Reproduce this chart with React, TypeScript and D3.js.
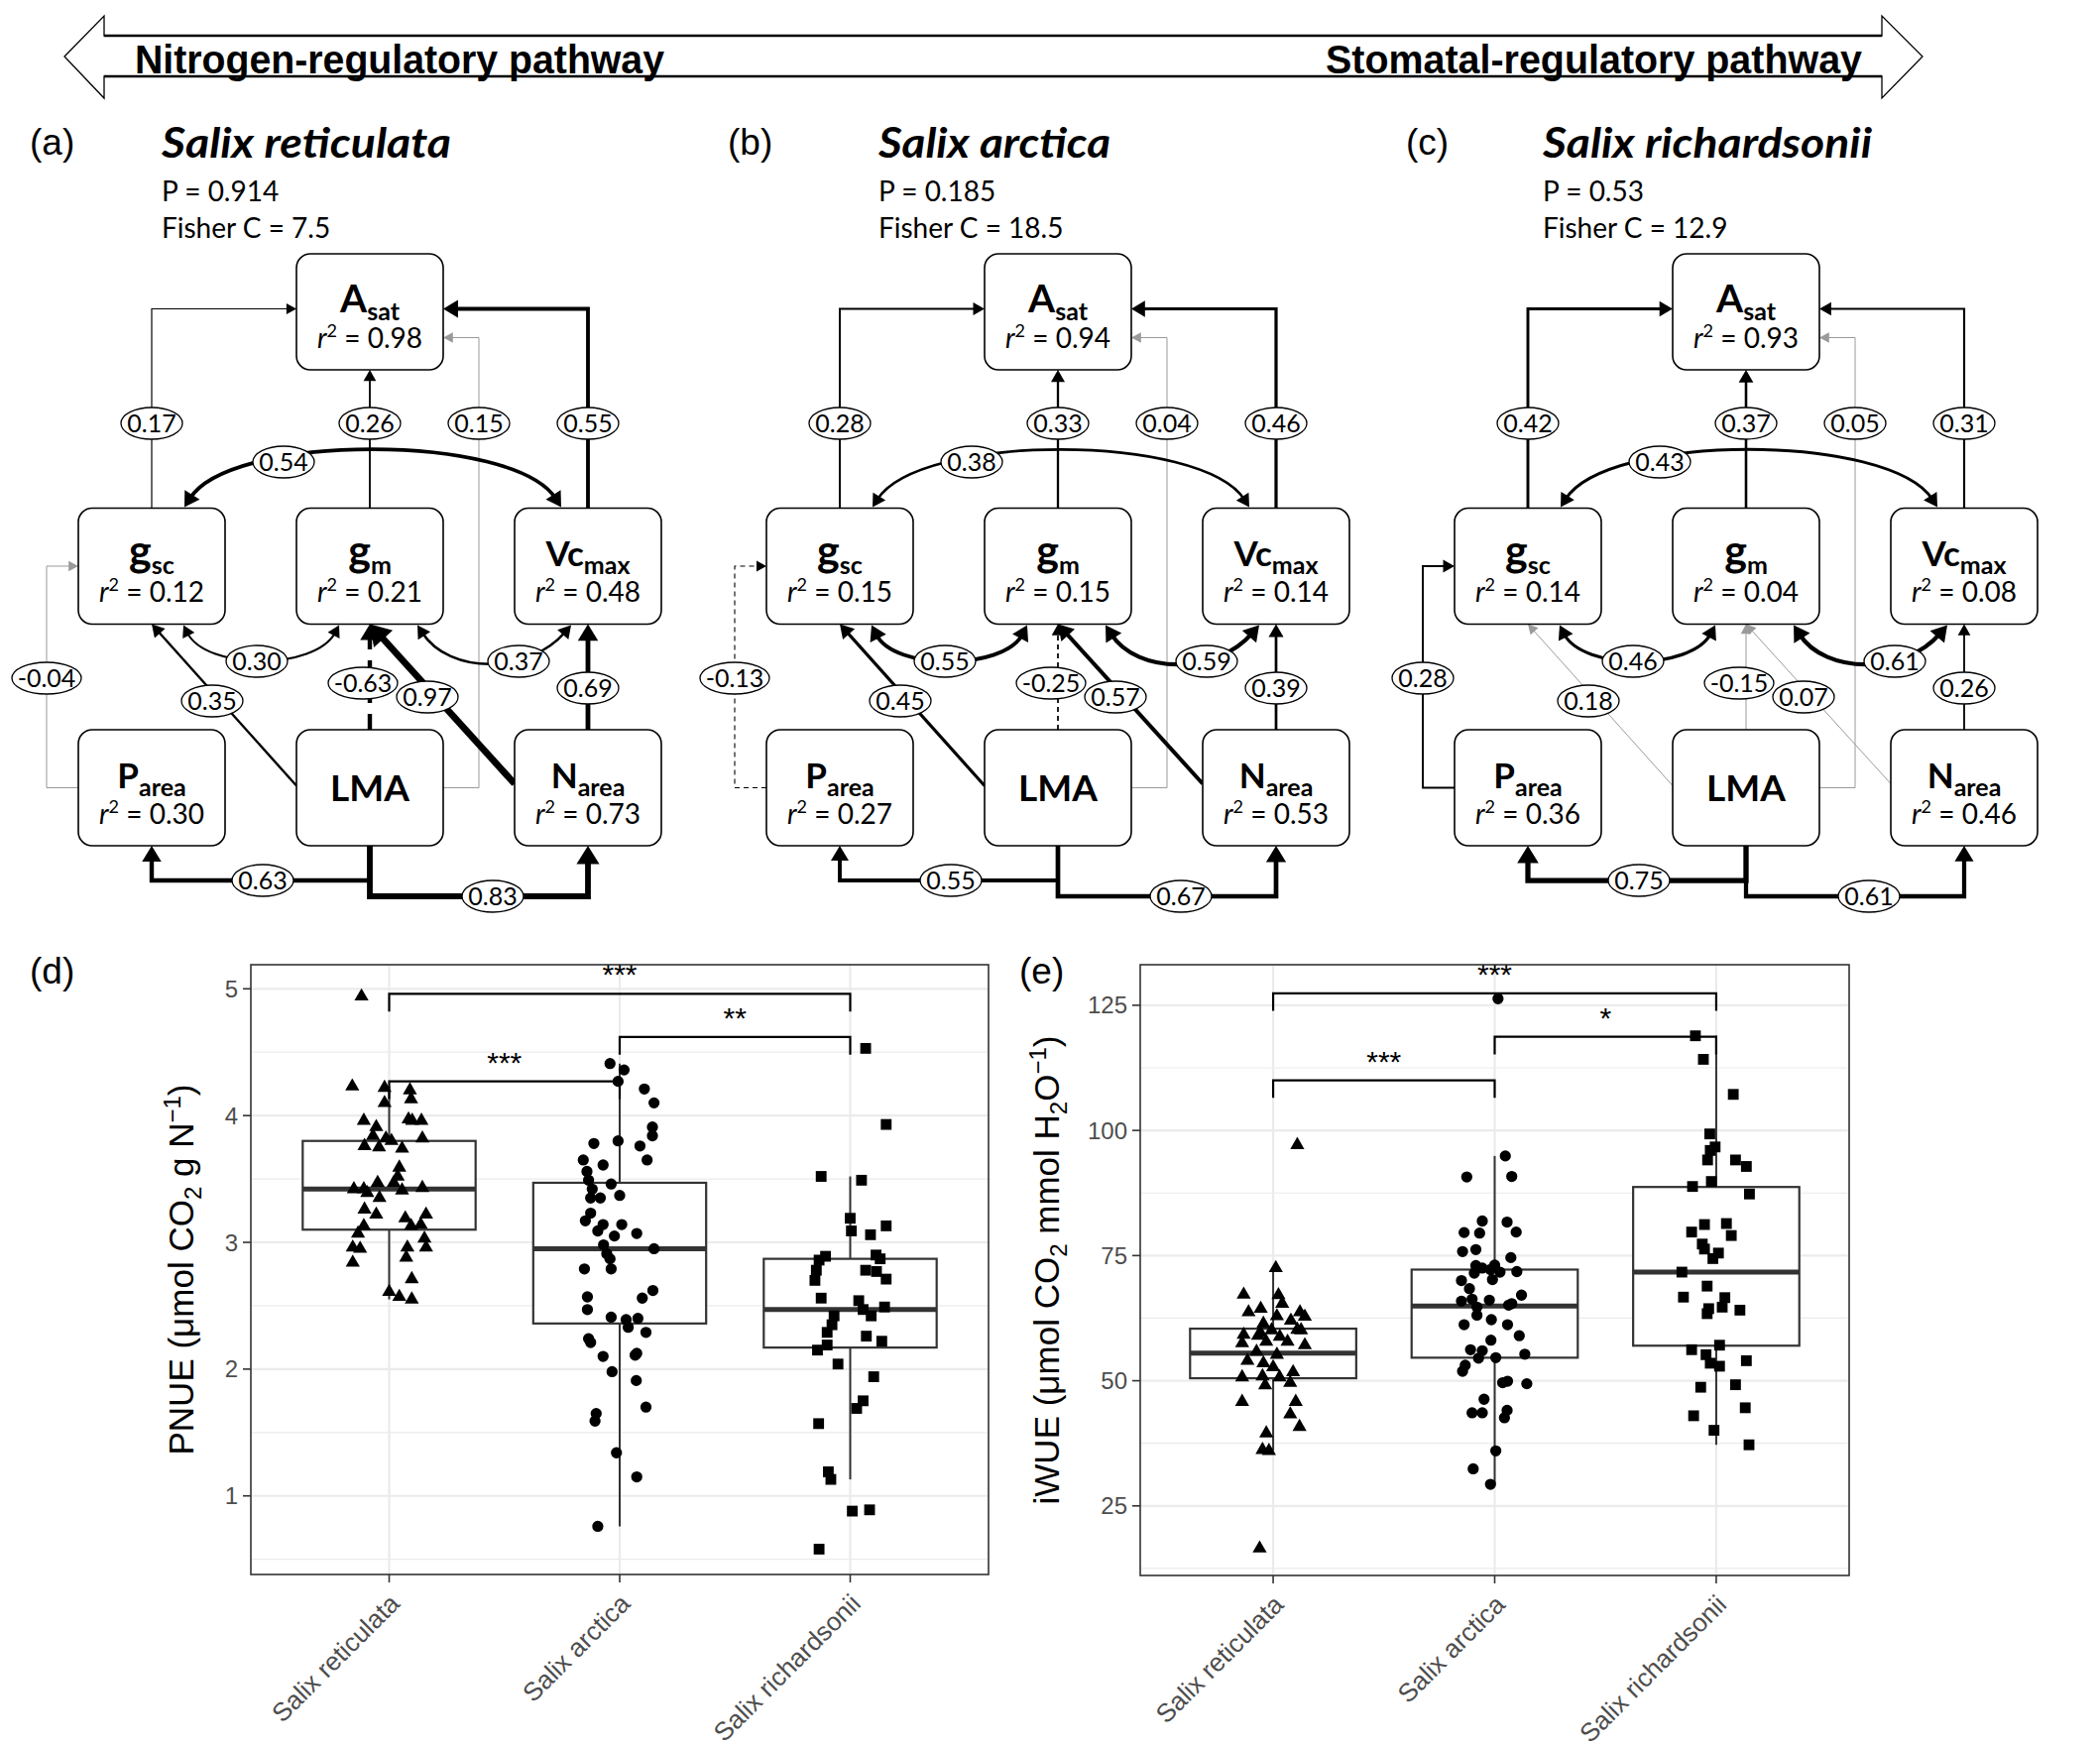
import React from 'react';
import * as d3 from 'd3';

// ===================== DATA =====================
const speciesNames = ['Salix reticulata', 'Salix arctica', 'Salix richardsonii'];

// --- SEM panels (a)-(c)
const semLetters = ['(a)', '(b)', '(c)'];
const semP = ['0.914', '0.185', '0.53'];
const semFisherC = ['7.5', '18.5', '12.9'];

const nodeMain = ['A', 'g', 'g', 'Vc', 'P', 'LMA', 'N'];
const nodeSub = ['sat', 'sc', 'm', 'max', 'area', '', 'area'];
const nodeCol = [1, 0, 1, 2, 0, 1, 2];
const nodeRow = [0, 1, 1, 1, 2, 2, 2];

const r2Reticulata = [0.98, 0.12, 0.21, 0.48, 0.30, null, 0.73];
const r2Arctica = [0.94, 0.15, 0.15, 0.14, 0.27, null, 0.53];
const r2Richardsonii = [0.93, 0.14, 0.04, 0.08, 0.36, null, 0.46];

const edgeKeys = [
  'gsc>Asat', 'gm>Asat', 'LMA>Asat', 'Vcmax>Asat', 'gsc<>Vcmax', 'Parea>gsc', 'LMA>gsc',
  'gsc<>gm', 'LMA>gm', 'Narea>gm', 'gm<>Vcmax', 'Narea>Vcmax', 'LMA>Parea', 'LMA>Narea',
];
const coefReticulata = [0.17, 0.26, 0.15, 0.55, 0.54, -0.04, 0.35, 0.30, -0.63, 0.97, 0.37, 0.69, 0.63, 0.83];
const sigReticulata = [1, 1, 0, 1, 1, 0, 1, 1, 1, 1, 1, 1, 1, 1];
const coefArctica = [0.28, 0.33, 0.04, 0.46, 0.38, -0.13, 0.45, 0.55, -0.25, 0.57, 0.59, 0.39, 0.55, 0.67];
const sigArctica = [1, 1, 0, 1, 1, 1, 1, 1, 1, 1, 1, 1, 1, 1];
const coefRichardsonii = [0.42, 0.37, 0.05, 0.31, 0.43, 0.28, 0.18, 0.46, -0.15, 0.07, 0.61, 0.26, 0.75, 0.61];
const sigRichardsonii = [1, 1, 0, 1, 1, 1, 0, 1, 0, 0, 1, 1, 1, 1];

// --- Boxplot panel (d): PNUE  [jitter offset (category units), value]
const pnueReticulata: [number, number][] = [
  [-0.12, 4.94], [-0.16, 4.23], [-0.02, 4.22], [0.09, 4.20], [0.095, 4.13], [-0.02, 4.10], [-0.11, 3.96],
  [-0.056, 3.91], [0.084, 3.97], [0.10, 3.96], [0.14, 3.96], [-0.07, 3.84], [-0.014, 3.82], [-0.107, 3.76],
  [-0.044, 3.75], [0.01, 3.80], [0.056, 3.74], [0.144, 3.82], [0.044, 3.59], [0.037, 3.52], [-0.153, 3.42],
  [-0.11, 3.42], [-0.05, 3.47], [0.02, 3.47], [0.056, 3.41], [0.144, 3.43], [-0.095, 3.39], [-0.042, 3.35],
  [-0.107, 3.26], [-0.056, 3.22], [0.07, 3.19], [0.16, 3.22], [-0.11, 3.13], [0.095, 3.13], [0.137, 3.14],
  [-0.135, 3.07], [0.153, 3.03], [-0.158, 2.96], [-0.126, 2.95], [0.079, 2.96], [0.16, 2.96], [0.074, 2.88],
  [-0.158, 2.84], [0.098, 2.71], [0, 2.61], [0.044, 2.57], [0.098, 2.55],
];
const pnueArctica: [number, number][] = [
  [-0.042, 4.41], [0.019, 4.36], [-0.007, 4.27], [0.107, 4.21], [0.149, 4.10], [0.142, 3.91], [0.142, 3.84],
  [-0.112, 3.78], [-0.007, 3.80], [0.088, 3.76], [-0.158, 3.65], [0.119, 3.65], [-0.072, 3.61], [-0.142, 3.56],
  [-0.135, 3.49], [-0.037, 3.46], [-0.119, 3.42], [0, 3.37], [-0.126, 3.35], [-0.084, 3.35], [-0.126, 3.23],
  [-0.149, 3.17], [-0.072, 3.14], [0.009, 3.14], [-0.095, 3.09], [-0.023, 3.05], [0.074, 3.07], [-0.07, 2.98],
  [0.149, 2.95], [-0.056, 2.91], [-0.042, 2.87], [-0.153, 2.79], [-0.037, 2.79], [0.144, 2.62], [-0.14, 2.57],
  [0.098, 2.56], [-0.14, 2.47], [-0.037, 2.41], [0.028, 2.39], [0.079, 2.40], [0.037, 2.33], [0.114, 2.29],
  [-0.135, 2.24], [-0.126, 2.21], [-0.072, 2.10], [0.074, 2.125], [0.067, 2.11], [-0.033, 1.98], [0.072, 1.91],
  [0.114, 1.70], [-0.102, 1.65], [-0.107, 1.59], [-0.014, 1.34], [0.074, 1.15], [-0.095, 0.76],
];
const pnueRichardsonii: [number, number][] = [
  [0.067, 4.53], [0.156, 3.93], [-0.126, 3.52], [0.049, 3.49], [0, 3.19], [0.005, 3.09], [0.088, 3.06],
  [0.156, 3.13], [-0.107, 2.89], [-0.135, 2.86], [0.112, 2.90], [0.13, 2.87], [-0.147, 2.78], [0.067, 2.78],
  [0.114, 2.77], [0.156, 2.71], [-0.153, 2.70], [-0.126, 2.56], [0.037, 2.54], [0.149, 2.49], [0.056, 2.47],
  [0.091, 2.42], [-0.07, 2.42], [-0.079, 2.35], [-0.1, 2.29], [0.07, 2.26], [0.137, 2.22], [-0.142, 2.15],
  [-0.1, 2.19], [-0.053, 2.04], [0.102, 1.94], [0.056, 1.75], [0.028, 1.69], [-0.137, 1.57], [-0.095, 1.19],
  [-0.084, 1.13], [0.009, 0.88], [0.084, 0.89], [-0.135, 0.58],
];
// [lower whisker, Q1, median, Q3, upper whisker]
const pnueBoxStats = [
  [2.55, 3.10, 3.42, 3.80, 4.23],
  [0.76, 2.36, 2.95, 3.47, 4.41],
  [1.13, 2.17, 2.47, 2.87, 3.52],
];
const pnueTicks = [1, 2, 3, 4, 5];
const pnueMinor = [0.5, 1.5, 2.5, 3.5, 4.5];
const pnueBrackets = [
  { from: 0, to: 2, y: 4.96, label: '***' },
  { from: 1, to: 2, y: 4.62, label: '**' },
  { from: 0, to: 1, y: 4.27, label: '***' },
];

// --- Boxplot panel (e): iWUE
const iwueReticulata: [number, number][] = [
  [0.109, 97.1], [0.012, 72.5], [-0.133, 67.2], [0.024, 67.1], [0.041, 65.4], [-0.111, 63.7], [-0.056, 64.4],
  [0.121, 63.7], [0.143, 62.8], [0.017, 62.9], [-0.044, 61.4], [0.08, 62.0], [0.109, 60.2], [-0.068, 59.0],
  [-0.133, 59.2], [0.03, 58.8], [-0.14, 57.5], [-0.056, 59.5], [-0.007, 60.1], [0.065, 57.8], [0.126, 60.1],
  [0.143, 57.1], [-0.031, 57.8], [-0.075, 55.8], [0.017, 55.2], [-0.116, 54.0], [-0.044, 53.5], [0, 52.7],
  [0.09, 51.7], [-0.14, 50.7], [-0.048, 50.9], [0.029, 50.7], [0.077, 49.6], [-0.036, 49.1], [-0.14, 45.8],
  [0.102, 45.8], [0.077, 43.3], [0.119, 40.8], [-0.031, 39.5], [-0.048, 36.2], [-0.019, 36.0], [-0.061, 16.5],
];
const iwueArctica: [number, number][] = [
  [0.015, 126.3], [0.048, 94.9], [-0.126, 90.7], [0.077, 90.8], [-0.056, 81.9], [0.056, 81.7], [-0.138, 79.6],
  [-0.068, 79.5], [0.097, 79.7], [-0.145, 75.8], [-0.085, 76.2], [0.073, 74.6], [-0.085, 73.0], [-0.056, 72.5],
  [-0.019, 72.2], [0, 73.1], [0.024, 71.7], [0.1, 71.8], [-0.092, 71.5], [-0.15, 70.0], [-0.01, 70.2],
  [-0.114, 68.4], [-0.102, 66.3], [0.121, 67.1], [-0.15, 65.9], [-0.024, 66.1], [0.063, 65.1], [0.077, 65.4],
  [-0.08, 64.7], [-0.08, 63.1], [-0.015, 62.2], [-0.138, 61.2], [0.058, 61.2], [0.111, 59.0], [-0.017, 58.1],
  [-0.109, 56.2], [-0.056, 56.0], [0.136, 55.3], [-0.073, 54.5], [0.005, 54.6], [-0.133, 53.1], [-0.145, 51.9],
  [0.058, 49.9], [0.036, 49.6], [0.145, 49.4], [-0.048, 46.3], [-0.102, 43.6], [-0.056, 43.6], [0.056, 44.1],
  [0.044, 42.6], [0.005, 36.0], [-0.097, 32.4], [-0.019, 29.3],
];
const iwueRichardsonii: [number, number][] = [
  [-0.094, 118.9], [-0.058, 114.2], [0.077, 107.2], [-0.029, 99.3], [-0.005, 96.7], [-0.027, 96.0],
  [-0.039, 94.1], [0.087, 94.1], [0.136, 92.8], [-0.022, 89.8], [-0.107, 88.8], [0.15, 87.3], [-0.053, 81.2],
  [0.046, 81.4], [-0.111, 79.7], [0.068, 79.0], [-0.063, 77.3], [-0.053, 76.3], [0.01, 75.5], [-0.015, 74.4],
  [-0.155, 71.7], [-0.041, 68.9], [-0.148, 66.7], [0.039, 66.6], [0.027, 64.7], [-0.034, 64.4], [0.107, 64.1],
  [-0.041, 63.4], [0.015, 57.1], [-0.111, 56.2], [-0.046, 55.2], [-0.027, 53.5], [0.015, 52.9], [0.136, 54.0],
  [-0.07, 48.7], [0.087, 49.2], [0.131, 44.6], [-0.102, 43.0], [-0.01, 40.1], [0.148, 37.2],
];
const iwueBoxStats = [
  [36.0, 50.5, 55.5, 60.4, 72.5],
  [29.3, 54.6, 64.9, 72.2, 94.9],
  [37.2, 57.0, 71.7, 88.7, 118.9],
];
const iwueTicks = [25, 50, 75, 100, 125];
const iwueMinor = [12.5, 37.5, 62.5, 87.5, 112.5];
const iwueBrackets = [
  { from: 0, to: 2, y: 127.4, label: '***' },
  { from: 1, to: 2, y: 118.7, label: '*' },
  { from: 0, to: 1, y: 110.0, label: '***' },
];

// ===================== LAYOUT =====================
const W = 2118;
const H = 1762;
const SEM_FONT = "Lato, 'Open Sans', sans-serif";
const GG_FONT = "'Liberation Sans', Arial, Helvetica, sans-serif";
const semLayout = [
  { cx: 373, letterX: 30, titleX: 163, titleLen: 292 },
  { cx: 1067, letterX: 734, titleX: 886, titleLen: 234 },
  { cx: 1761, letterX: 1418, titleX: 1556, titleLen: 332 },
];
const rowCenters = [314.5, 571, 794.5];
const nodeFont = [39, 43, 43, 35, 35, 37, 35];
const HW = 74;
const HH = 58.5;

type Pt = [number, number];

function edgeGeom(key: string, X: (c: number) => number, Y: (r: number) => number):
  { pts?: Pt[]; curve?: Pt[]; label: Pt } {
  const c0 = X(0), c1 = X(1), c2 = X(2);
  const y0 = Y(0), y1 = Y(1), y2 = Y(2);
  switch (key) {
    case 'gsc>Asat': return { pts: [[c0, y1 - HH], [c0, y0 - 3], [c1 - HW, y0 - 3]], label: [c0, 427] };
    case 'gm>Asat': return { pts: [[c1, y1 - HH], [c1, y0 + HH]], label: [c1, 427] };
    case 'LMA>Asat': return { pts: [[c1 + HW, y2], [c1 + 110, y2], [c1 + 110, y0 + 26], [c1 + HW, y0 + 26]], label: [c1 + 110, 427] };
    case 'Vcmax>Asat': return { pts: [[c2, y1 - HH], [c2, y0 - 3], [c1 + HW, y0 - 3]], label: [c2, 427] };
    case 'gsc<>Vcmax': return { curve: [[c0 + 33, y1 - HH - 1], [c0 + 80, y1 - HH - 76], [c2 - 75, y1 - HH - 76], [c2 - 27, y1 - HH - 1]], label: [c1 - 87, 466] };
    case 'Parea>gsc': return { pts: [[c0 - HW, y2], [c0 - 106, y2], [c0 - 106, y1], [c0 - HW, y1]], label: [c0 - 106, 684] };
    case 'LMA>gsc': return { pts: [[c1 - HW, y2 - 2], [c0, y1 + HH]], label: [c1 - 159, 707] };
    case 'gsc<>gm': return { curve: [[c0 + 32, y1 + HH + 1], [c0 + 55, y1 + HH + 47], [c1 - 55, y1 + HH + 47], [c1 - 31, y1 + HH + 1]], label: [c1 - 114, 667] };
    case 'LMA>gm': return { pts: [[c1, y2 - HH], [c1, y1 + HH]], label: [c1 - 7, 689] };
    case 'Narea>gm': return { pts: [[c2 - HW, y2 - 4], [c1, y1 + HH]], label: [c1 + 58, 703] };
    case 'gm<>Vcmax': return { curve: [[c1 + 48, y1 + HH + 1], [c1 + 80, y1 + HH + 51], [c2 - 60, y1 + HH + 51], [c2 - 17, y1 + HH + 1]], label: [c1 + 150, 667] };
    case 'Narea>Vcmax': return { pts: [[c2, y2 - HH], [c2, y1 + HH]], label: [c2, 694] };
    case 'LMA>Parea': return { pts: [[c1, y2 + HH], [c1, 888], [c0, 888], [c0, y2 + HH]], label: [c1 - 108, 888] };
    default: return { pts: [[c1, y2 + HH], [c1, 904], [c2, 904], [c2, y2 + HH]], label: [c1 + 124, 904] };
  }
}

const widthScale = d3.scaleLinear().domain([0, 1]).range([0, 7]);

function norm(dx: number, dy: number): Pt {
  const l = Math.hypot(dx, dy) || 1;
  return [dx / l, dy / l];
}
function headPath(tip: Pt, dir: Pt, w: number) {
  const L = 8 + 1.8 * w, Hw = 4 + 1.3 * w;
  const [dx, dy] = dir;
  const bx = tip[0] - dx * L, by = tip[1] - dy * L;
  const px = -dy, py = dx;
  return `M${tip[0]},${tip[1]}L${bx + px * Hw},${by + py * Hw}L${bx - px * Hw},${by - py * Hw}Z`;
}

function SemPanel({ idx, r2, coef, sig }: { idx: number; r2: (number | null)[]; coef: number[]; sig: number[] }) {
  const lay = semLayout[idx];
  const X = d3.scaleLinear().domain([0, 2]).range([lay.cx - 220, lay.cx + 220]);
  const Y = d3.scaleOrdinal<number, number>().domain([0, 1, 2]).range(rowCenters);
  const edges = edgeKeys.map((k, i) => {
    const g = edgeGeom(k, X, (r) => Y(r));
    const c = coef[i];
    const s = sig[i] === 1;
    const w = s ? Math.max(1.1, widthScale(Math.abs(c))) : 1;
    const color = s ? '#000' : '#9a9a9a';
    const dash = s && c < 0 ? (w > 2 ? '16 11' : '5 4') : undefined;
    const L = 8 + 1.8 * w;
    let d = '';
    const heads: string[] = [];
    if (g.pts) {
      const pts = g.pts.map((p) => [p[0], p[1]] as Pt);
      const n = pts.length;
      const dir = norm(pts[n - 1][0] - pts[n - 2][0], pts[n - 1][1] - pts[n - 2][1]);
      heads.push(headPath(pts[n - 1], dir, w));
      const shortened = pts.slice();
      shortened[n - 1] = [pts[n - 1][0] - dir[0] * L * 0.7, pts[n - 1][1] - dir[1] * L * 0.7];
      d = d3.line()(shortened) || '';
    } else if (g.curve) {
      const [p0, p1, p2, p3] = g.curve;
      const d0 = norm(p0[0] - p1[0], p0[1] - p1[1]);
      const d3v = norm(p3[0] - p2[0], p3[1] - p2[1]);
      heads.push(headPath(p0, d0, w));
      heads.push(headPath(p3, d3v, w));
      const s0: Pt = [p0[0] - d0[0] * L * 0.7, p0[1] - d0[1] * L * 0.7];
      const s3: Pt = [p3[0] - d3v[0] * L * 0.7, p3[1] - d3v[1] * L * 0.7];
      const pth = d3.path();
      pth.moveTo(s0[0], s0[1]);
      pth.bezierCurveTo(p1[0], p1[1], p2[0], p2[1], s3[0], s3[1]);
      d = pth.toString();
    }
    return { key: k, d, heads, w, color, dash, label: g.label, text: c.toFixed(2) };
  });

  return (
    <g>
      <text x={lay.letterX} y={156} fontFamily={GG_FONT} fontSize={37}>{semLetters[idx]}</text>
      <text x={lay.titleX} y={159} fontFamily={SEM_FONT} fontSize={42} fontWeight={700} fontStyle="italic"
        textLength={lay.titleLen} lengthAdjust="spacingAndGlyphs">{speciesNames[idx]}</text>
      <text x={lay.titleX} y={203} fontFamily={SEM_FONT} fontSize={28}>P = {semP[idx]}</text>
      <text x={lay.titleX} y={240} fontFamily={SEM_FONT} fontSize={28}>Fisher C = {semFisherC[idx]}</text>
      {edges.map((e) => (
        <g key={e.key}>
          <path d={e.d} fill="none" stroke={e.color} strokeWidth={e.w} strokeDasharray={e.dash}
            strokeLinejoin="miter" strokeLinecap="butt" />
          {e.heads.map((h, j) => <path key={j} d={h} fill={e.color} />)}
        </g>
      ))}
      {nodeMain.map((m, i) => {
        const cx = X(nodeCol[i]);
        const cy = Y(nodeRow[i]);
        const r = r2[i];
        return (
          <g key={i}>
            <rect x={cx - HW} y={cy - HH} width={HW * 2} height={HH * 2} rx={14} ry={14}
              fill="#fff" stroke="#000" strokeWidth={1.6} />
            {r === null ? (
              <text x={cx} y={cy + 13} textAnchor="middle" fontFamily={SEM_FONT} fontSize={nodeFont[i]} fontWeight={700}>{m}</text>
            ) : (
              <>
                <text x={cx} y={cy} textAnchor="middle" fontFamily={SEM_FONT} fontSize={nodeFont[i]} fontWeight={700}>
                  <tspan>{m}</tspan>
                  <tspan fontSize={25} dy={8}>{nodeSub[i]}</tspan>
                </text>
                <text x={cx} y={cy + 36} textAnchor="middle" fontFamily={SEM_FONT} fontSize={28}>
                  <tspan fontStyle="italic">r</tspan>
                  <tspan fontSize={18} dy={-11}>2</tspan>
                  <tspan dy={11}>{' = ' + r.toFixed(2)}</tspan>
                </text>
              </>
            )}
          </g>
        );
      })}
      {edges.map((e) => {
        const rx = e.text.length > 4 ? 35 : 31;
        return (
          <g key={'l' + e.key}>
            <ellipse cx={e.label[0]} cy={e.label[1]} rx={rx} ry={16} fill="#fff" stroke="#000" strokeWidth={1.3} />
            <text x={e.label[0]} y={e.label[1] + 8.5} textAnchor="middle" fontFamily={SEM_FONT} fontSize={25}>{e.text}</text>
          </g>
        );
      })}
    </g>
  );
}

function Banner() {
  const xl = 65, xh1 = 105, xh2 = 1898, xr = 1939, ym = 57, yt = 16, yb = 99, bt = 36, bb = 77;
  const p = d3.path();
  p.moveTo(xl, ym); p.lineTo(xh1, yt); p.lineTo(xh1, bt); p.lineTo(xh2, bt); p.lineTo(xh2, yt);
  p.lineTo(xr, ym); p.lineTo(xh2, yb); p.lineTo(xh2, bb); p.lineTo(xh1, bb); p.lineTo(xh1, yb); p.closePath();
  return (
    <g>
      <path d={p.toString()} fill="#fff" stroke="#000" strokeWidth={1.3} />
      <path d={`M${xh1},${bt}H${xh2}M${xh1},${bb}H${xh2}`} stroke="#000" strokeWidth={2.6} />
      <text x={136} y={74} fontFamily={GG_FONT} fontWeight={700} fontSize={41} textLength={534} lengthAdjust="spacingAndGlyphs">Nitrogen-regulatory pathway</text>
      <text x={1337} y={74} fontFamily={GG_FONT} fontWeight={700} fontSize={41} textLength={541} lengthAdjust="spacingAndGlyphs">Stomatal-regulatory pathway</text>
    </g>
  );
}

const symbolTypes = [d3.symbolTriangle, d3.symbolCircle, d3.symbolSquare];
const symbolSizes = [88, 100, 118];

type Bracket = { from: number; to: number; y: number; label: string };

function BoxPanel(props: {
  id: string; left: number; right: number; top: number; bottom: number; domain: [number, number];
  ticks: number[]; minor: number[]; stats: number[][]; points: [number, number][][];
  brackets: Bracket[]; tip: number; letter: string; letterX: number; letterY: number; titleX: number;
  title: React.ReactNode;
}) {
  const { id, left, right, top, bottom, domain, ticks, minor, stats, points, brackets, tip } = props;
  const x = d3.scalePoint<string>().domain(speciesNames).range([left, right]).padding(0.6);
  const y = d3.scaleLinear().domain(domain).range([bottom, top]);
  const step = x.step();
  const bw = 0.75 * step;
  const midY = (top + bottom) / 2;
  return (
    <g>
      <defs>
        <clipPath id={'clip-' + id}>
          <rect x={left} y={top} width={right - left} height={bottom - top} />
        </clipPath>
      </defs>
      <text x={props.letterX} y={props.letterY} fontFamily={GG_FONT} fontSize={37}>{props.letter}</text>
      <rect x={left} y={top} width={right - left} height={bottom - top} fill="#fff" />
      {minor.map((v) => (
        <line key={'mn' + v} x1={left} x2={right} y1={y(v)} y2={y(v)} stroke="#EBEBEB" strokeWidth={1.2} />
      ))}
      {ticks.map((v) => (
        <line key={'mj' + v} x1={left} x2={right} y1={y(v)} y2={y(v)} stroke="#EBEBEB" strokeWidth={2.2} />
      ))}
      {speciesNames.map((s) => (
        <line key={'vx' + s} x1={x(s)} x2={x(s)} y1={top} y2={bottom} stroke="#EBEBEB" strokeWidth={2.2} />
      ))}
      <g clipPath={`url(#clip-${id})`}>
        {speciesNames.map((s, i) => {
          const cx = x(s) as number;
          const [lo, q1, med, q3, hi] = stats[i];
          return (
            <g key={'bx' + s}>
              <line x1={cx} x2={cx} y1={y(hi)} y2={y(q3)} stroke="#333" strokeWidth={2} />
              <line x1={cx} x2={cx} y1={y(q1)} y2={y(lo)} stroke="#333" strokeWidth={2} />
              <rect x={cx - bw / 2} y={y(q3)} width={bw} height={y(q1) - y(q3)} fill="#fff" stroke="#333" strokeWidth={2.2} />
              <line x1={cx - bw / 2} x2={cx + bw / 2} y1={y(med)} y2={y(med)} stroke="#333" strokeWidth={5} />
            </g>
          );
        })}
        {speciesNames.map((s, i) => {
          const cx = x(s) as number;
          const sym = d3.symbol().type(symbolTypes[i]).size(symbolSizes[i])();
          return (
            <g key={'pt' + s}>
              {points[i].map((p, j) => (
                <path key={j} d={sym || ''} transform={`translate(${cx + p[0] * step},${y(p[1])})`} fill="#000" />
              ))}
            </g>
          );
        })}
        {brackets.map((b, i) => {
          const xa = x(speciesNames[b.from]) as number;
          const xb = x(speciesNames[b.to]) as number;
          return (
            <g key={'br' + i}>
              <path d={`M${xa},${y(b.y - tip)}V${y(b.y)}H${xb}V${y(b.y - tip)}`} fill="none" stroke="#000" strokeWidth={2.2} />
              <text x={(xa + xb) / 2} y={y(b.y) - 9} textAnchor="middle" fontFamily={GG_FONT} fontSize={30}>{b.label}</text>
            </g>
          );
        })}
      </g>
      <rect x={left} y={top} width={right - left} height={bottom - top} fill="none" stroke="#333" strokeWidth={1.6} />
      {ticks.map((v) => (
        <g key={'yt' + v}>
          <line x1={left - 8} x2={left} y1={y(v)} y2={y(v)} stroke="#333" strokeWidth={1.6} />
          <text x={left - 13} y={y(v) + 8.5} textAnchor="end" fontFamily={GG_FONT} fontSize={24} fill="#4D4D4D">{v}</text>
        </g>
      ))}
      {speciesNames.map((s) => {
        const cx = x(s) as number;
        return (
          <g key={'xt' + s}>
            <line x1={cx} x2={cx} y1={bottom} y2={bottom + 8} stroke="#333" strokeWidth={1.6} />
            <text transform={`translate(${cx + 12},${bottom + 31}) rotate(-45)`} textAnchor="end"
              fontFamily={GG_FONT} fontSize={26} fill="#4D4D4D">{s}</text>
          </g>
        );
      })}
      <text transform={`translate(${props.titleX + 12},${midY}) rotate(-90)`} textAnchor="middle"
        fontFamily={GG_FONT} fontSize={35} fill="#000">{props.title}</text>
    </g>
  );
}

export default function App() {
  return (
    <svg width={W} height={H} viewBox={`0 0 ${W} ${H}`} style={{ position: 'absolute', left: 0, top: 0, background: '#fff' }}>
      <rect x={0} y={0} width={W} height={H} fill="#fff" />
      <Banner />
      <SemPanel idx={0} r2={r2Reticulata} coef={coefReticulata} sig={sigReticulata} />
      <SemPanel idx={1} r2={r2Arctica} coef={coefArctica} sig={sigArctica} />
      <SemPanel idx={2} r2={r2Richardsonii} coef={coefRichardsonii} sig={sigRichardsonii} />
      <BoxPanel id="d" left={253} right={997} top={973} bottom={1588} domain={[0.38, 5.19]}
        ticks={pnueTicks} minor={pnueMinor} stats={pnueBoxStats}
        points={[pnueReticulata, pnueArctica, pnueRichardsonii]} brackets={pnueBrackets} tip={0.14}
        letter="(d)" letterX={30} letterY={992} titleX={183}
        title={<>
          <tspan>PNUE (μmol CO</tspan><tspan fontSize={24} dy={8}>2</tspan>
          <tspan dy={-8}> g N</tspan><tspan fontSize={24} dy={-13}>−1</tspan><tspan dy={13}>)</tspan>
        </>} />
      <BoxPanel id="e" left={1150} right={1865} top={973} bottom={1589} domain={[11.1, 133.1]}
        ticks={iwueTicks} minor={iwueMinor} stats={iwueBoxStats}
        points={[iwueReticulata, iwueArctica, iwueRichardsonii]} brackets={iwueBrackets} tip={3.5}
        letter="(e)" letterX={1028} letterY={992} titleX={1056}
        title={<>
          <tspan>iWUE (μmol CO</tspan><tspan fontSize={24} dy={8}>2</tspan>
          <tspan dy={-8}> mmol H</tspan><tspan fontSize={24} dy={8}>2</tspan>
          <tspan dy={-8}>O</tspan><tspan fontSize={24} dy={-13}>−1</tspan><tspan dy={13}>)</tspan>
        </>} />
    </svg>
  );
}
